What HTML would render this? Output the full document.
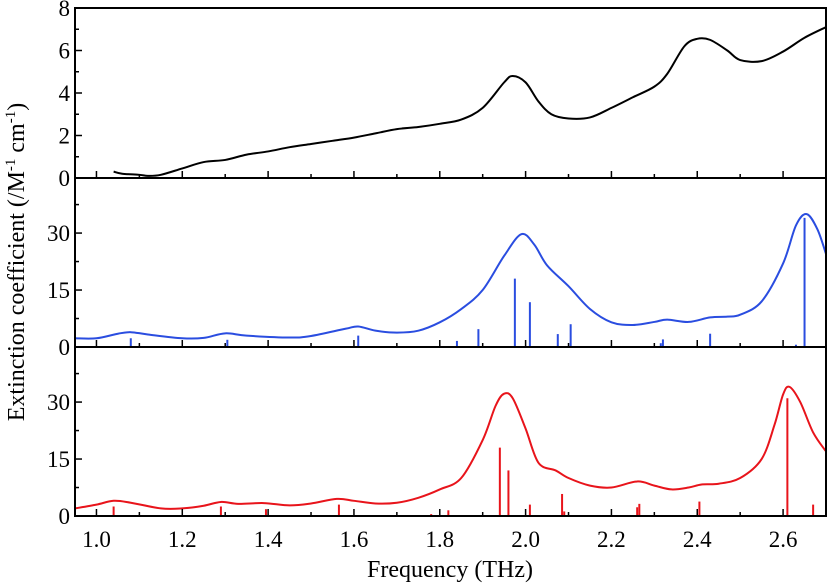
<!DOCTYPE html>
<html><head><meta charset="utf-8">
<style>
html,body{margin:0;padding:0;background:#fff;}
svg{display:block;font-family:"Liberation Serif",serif;}
</style></head>
<body>
<svg id="chart" width="827" height="583" viewBox="0 0 827 583" xmlns="http://www.w3.org/2000/svg"></svg>
<script>
const expFreq=[1.04,1.06,1.1,1.12,1.15,1.2,1.25,1.3,1.35,1.4,1.45,1.5,1.55,1.6,1.65,1.7,1.75,1.8,1.85,1.9,1.95,1.97,2.0,2.03,2.06,2.1,2.15,2.2,2.25,2.3,2.33,2.37,2.4,2.43,2.47,2.5,2.55,2.6,2.65,2.7];
const expVal=[0.3,0.2,0.15,0.1,0.15,0.45,0.75,0.85,1.1,1.25,1.45,1.6,1.75,1.9,2.1,2.3,2.4,2.55,2.75,3.3,4.5,4.8,4.5,3.6,3.0,2.8,2.85,3.3,3.8,4.3,4.9,6.2,6.55,6.5,6.0,5.55,5.5,5.95,6.6,7.1];
const blueFreq=[0.95,1.0,1.05,1.08,1.12,1.2,1.25,1.3,1.35,1.45,1.5,1.58,1.61,1.65,1.7,1.75,1.8,1.85,1.9,1.95,1.99,2.02,2.05,2.1,2.15,2.2,2.25,2.3,2.33,2.38,2.43,2.47,2.5,2.55,2.6,2.63,2.655,2.68,2.7];
const blueVal=[2.3,2.3,3.5,3.9,3.3,2.3,2.4,3.6,3.0,2.5,2.9,4.8,5.4,4.3,3.8,4.3,6.5,10,15,24,29.7,27,21.5,16,10,6.5,5.8,6.6,7.2,6.6,7.8,8,8.5,12,22,32,35,31,24.5];
const blueStickFreq=[1.08,1.305,1.61,1.84,1.89,1.975,2.01,2.075,2.105,2.315,2.32,2.43,2.63,2.65];
const blueStickVal=[2.3,1.9,3.0,1.6,4.7,18,11.8,3.4,6,1,2,3.5,0.6,34];
const redFreq=[0.95,1.0,1.04,1.08,1.15,1.2,1.25,1.29,1.33,1.39,1.45,1.5,1.56,1.6,1.65,1.7,1.75,1.8,1.85,1.9,1.93,1.95,1.97,2.0,2.03,2.07,2.1,2.15,2.2,2.26,2.3,2.34,2.38,2.41,2.45,2.5,2.55,2.58,2.6,2.615,2.64,2.67,2.7];
const redVal=[2,3,4,3.5,2,2,2.7,3.7,3.2,3.4,2.8,3.3,4.5,4,3.3,3.5,4.8,7,10,20,29,32.2,31,23,14,12,10,8,7.5,9.1,8,7,7.5,8.3,8.5,10,15,24,32,34,30,22,17];
const redStickFreq=[1.04,1.29,1.395,1.565,1.78,1.82,1.94,1.96,2.01,2.085,2.09,2.26,2.265,2.405,2.61,2.67];
const redStickVal=[2.5,2.5,1.8,3,0.5,1.5,18,12,3,5.8,1.2,2.3,3.2,3.8,31,3];
const xTicks=[1.0,1.2,1.4,1.6,1.8,2.0,2.2,2.4,2.6];
const xTickLabels=["1.0","1.2","1.4","1.6","1.8","2.0","2.2","2.4","2.6"];
const topTicks=[0,2,4,6,8];
const midTicks=[0,15,30];

const NS="http://www.w3.org/2000/svg";
const svg=document.getElementById('chart');
const L=75,R=826,XMIN=0.95,XMAX=2.7;
const xs=f=>L+(f-XMIN)/(XMAX-XMIN)*(R-L);
function el(tag,attrs,parent){const e=document.createElementNS(NS,tag);for(const k in attrs)e.setAttribute(k,attrs[k]);(parent||svg).appendChild(e);return e;}
const panels=[
 {name:'experimental',top:8,bot:178,ymax:8,ticks:topTicks,minor:1,fx:expFreq,fy:expVal,color:'#000'},
 {name:'calc-blue',top:178,bot:347,ymax:44.5,ticks:midTicks,minor:7.5,fx:blueFreq,fy:blueVal,sx:blueStickFreq,sy:blueStickVal,color:'#2a4de0'},
 {name:'calc-red',top:347,bot:516,ymax:44.5,ticks:midTicks,minor:7.5,fx:redFreq,fy:redVal,sx:redStickFreq,sy:redStickVal,color:'#e8141b'}
];
function smooth(pts){let d=`M${pts[0][0]},${pts[0][1]}`;for(let i=0;i<pts.length-1;i++){const p0=pts[Math.max(0,i-1)],p1=pts[i],p2=pts[i+1],p3=pts[Math.min(pts.length-1,i+2)];const c1x=p1[0]+(p2[0]-p0[0])/6,c1y=p1[1]+(p2[1]-p0[1])/6,c2x=p2[0]-(p3[0]-p1[0])/6,c2y=p2[1]-(p3[1]-p1[1])/6;d+=`C${c1x},${c1y} ${c2x},${c2y} ${p2[0]},${p2[1]}`;}return d;}
panels.forEach(p=>{
 const g=el('g',{});
 
 
 const ys=v=>p.bot-v/p.ymax*(p.bot-p.top);
 const cp=el('clipPath',{id:'c-'+p.name},g);el('rect',{x:L,y:p.top,width:R-L,height:p.bot-p.top},cp);
 if(p.sx){p.sx.forEach((f,i)=>{const s=el('line',{x1:xs(f),x2:xs(f),y1:p.bot,y2:ys(p.sy[i]),stroke:p.color,'stroke-width':2},g);
  });}
 const pts=p.fx.map((f,i)=>[xs(f),ys(p.fy[i])]);
 const c=el('path',{d:smooth(pts),fill:'none',stroke:p.color,'stroke-width':2,'clip-path':`url(#c-${p.name})`},g);
 
 for(let v=0;v<=p.ymax+1e-6;v+=p.minor){const major=p.ticks.some(t=>Math.abs(t-v)<1e-6);el('line',{x1:L,x2:L+(major?7:4),y1:ys(v),y2:ys(v),stroke:'#000','stroke-width':1.5},g);}
 p.ticks.forEach(t=>{const tx=el('text',{x:L-5,y:ys(t)+8,'text-anchor':'end','font-size':23},g);tx.textContent=t;
  });
 for(let k=0;k<=17;k++){const f=1.0+k*0.1;if(f>XMAX)break;const major=k%2===0;el('line',{x1:xs(f),x2:xs(f),y1:p.bot,y2:p.bot-(major?7:4),stroke:'#000','stroke-width':1.5},g);}
 el('line',{x1:L,x2:R,y1:p.bot,y2:p.bot,stroke:'#000','stroke-width':2},g);
});
const fr=el('path',{d:`M${L},8H${R}V516H${L}Z`,fill:'none',stroke:'#000','stroke-width':2});

xTicks.forEach((f,i)=>{const t=el('text',{x:xs(f),y:547,'text-anchor':'middle','font-size':23});t.textContent=xTickLabels[i];
 });
const xt=el('text',{x:450,y:577,'text-anchor':'middle','font-size':24});xt.textContent='Frequency (THz)';

const yt=el('text',{x:0,y:0,'text-anchor':'middle','font-size':24,transform:'translate(24,262) rotate(-90)'});
yt.innerHTML='Extinction coefficient (/M<tspan dy="-9" font-size="15">-1</tspan><tspan dy="9"> cm</tspan><tspan dy="-9" font-size="15">-1</tspan><tspan dy="9">)</tspan>';

</script>
</body></html>
